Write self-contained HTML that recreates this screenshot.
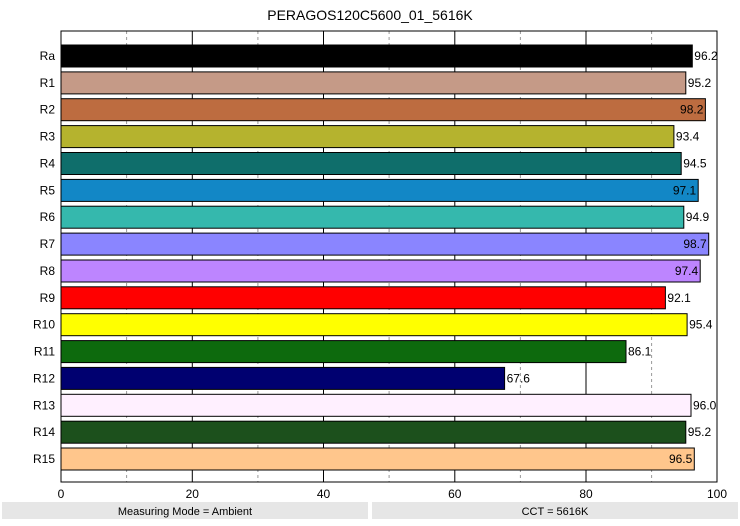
<!DOCTYPE html><html><head><style>body{margin:0;background:#fff;font-family:"Liberation Sans",sans-serif}</style></head><body>
<svg width="740" height="521" xmlns="http://www.w3.org/2000/svg" font-family="Liberation Sans, sans-serif">
<rect width="740" height="521" fill="#fff"/>
<text x="370" y="20" font-size="14" text-anchor="middle">PERAGOS120C5600_01_5616K</text>
<g stroke="#999" stroke-dasharray="3,3" stroke-width="1">
<line x1="126.6" y1="31" x2="126.6" y2="482"/><line x1="257.9" y1="31" x2="257.9" y2="482"/><line x1="389.1" y1="31" x2="389.1" y2="482"/><line x1="520.4" y1="31" x2="520.4" y2="482"/><line x1="651.6" y1="31" x2="651.6" y2="482"/>
</g>
<g stroke="#000" stroke-width="1">
<line x1="192.3" y1="31" x2="192.3" y2="482"/><line x1="323.5" y1="31" x2="323.5" y2="482"/><line x1="454.8" y1="31" x2="454.8" y2="482"/><line x1="586" y1="31" x2="586" y2="482"/>
</g>
<g stroke="#000" stroke-width="1">
<rect x="61" y="45" width="631.3" height="22" fill="#000"/>
<rect x="61" y="71.9" width="624.8" height="22" fill="#c59a87"/>
<rect x="61" y="98.7" width="644.4" height="22" fill="#bd6c40"/>
<rect x="61" y="125.6" width="612.9" height="22" fill="#b5b32e"/>
<rect x="61" y="152.5" width="620.2" height="22" fill="#0f6e6b"/>
<rect x="61" y="179.4" width="637.2" height="22" fill="#1287c6"/>
<rect x="61" y="206.2" width="622.8" height="22" fill="#35b8ad"/>
<rect x="61" y="233.1" width="647.7" height="22" fill="#8a85ff"/>
<rect x="61" y="260" width="639.2" height="22" fill="#bd85ff"/>
<rect x="61" y="286.8" width="604.4" height="22" fill="#ff0000"/>
<rect x="61" y="313.7" width="626.1" height="22" fill="#ffff00"/>
<rect x="61" y="340.6" width="565" height="22" fill="#0d6a0d"/>
<rect x="61" y="367.4" width="443.6" height="22" fill="#000070"/>
<rect x="61" y="394.3" width="630" height="22" fill="#fff0ff"/>
<rect x="61" y="421.2" width="624.8" height="22" fill="#1c501c"/>
<rect x="61" y="448" width="633.3" height="22" fill="#ffc68c"/>
</g>
<g font-size="12" text-anchor="end">
<text x="55" y="60">Ra</text><text x="55" y="86.9">R1</text><text x="55" y="113.7">R2</text><text x="55" y="140.6">R3</text><text x="55" y="167.5">R4</text><text x="55" y="194.4">R5</text><text x="55" y="221.2">R6</text><text x="55" y="248.1">R7</text><text x="55" y="275">R8</text><text x="55" y="301.8">R9</text><text x="55" y="328.7">R10</text><text x="55" y="355.6">R11</text><text x="55" y="382.4">R12</text><text x="55" y="409.3">R13</text><text x="55" y="436.2">R14</text><text x="55" y="463">R15</text>
</g>
<g font-size="12">
<text x="694.3" y="60">96.2</text>
<text x="687.8" y="86.9">95.2</text>
<text x="703.4" y="113.7" text-anchor="end">98.2</text>
<text x="675.9" y="140.6">93.4</text>
<text x="683.2" y="167.5">94.5</text>
<text x="696.2" y="194.4" text-anchor="end">97.1</text>
<text x="685.8" y="221.2">94.9</text>
<text x="706.7" y="248.1" text-anchor="end">98.7</text>
<text x="698.2" y="275" text-anchor="end">97.4</text>
<text x="667.4" y="301.8">92.1</text>
<text x="689.1" y="328.7">95.4</text>
<text x="628" y="355.6">86.1</text>
<text x="506.6" y="382.4">67.6</text>
<text x="693" y="409.3">96.0</text>
<text x="687.8" y="436.2">95.2</text>
<text x="692.3" y="463" text-anchor="end">96.5</text>
</g>
<rect x="61" y="31" width="656" height="451" fill="none" stroke="#000"/>
<g font-size="12" text-anchor="middle"><text x="61" y="498">0</text><text x="192.3" y="498">20</text><text x="323.5" y="498">40</text><text x="454.8" y="498">60</text><text x="586" y="498">80</text><text x="717" y="498">100</text></g>
<rect x="2" y="502" width="366" height="17" fill="#e6e6e6"/><rect x="372" y="502" width="366" height="17" fill="#e6e6e6"/>
<text x="185" y="515" font-size="11" text-anchor="middle">Measuring Mode = Ambient</text>
<text x="555" y="515" font-size="11" text-anchor="middle">CCT = 5616K</text>
</svg></body></html>
